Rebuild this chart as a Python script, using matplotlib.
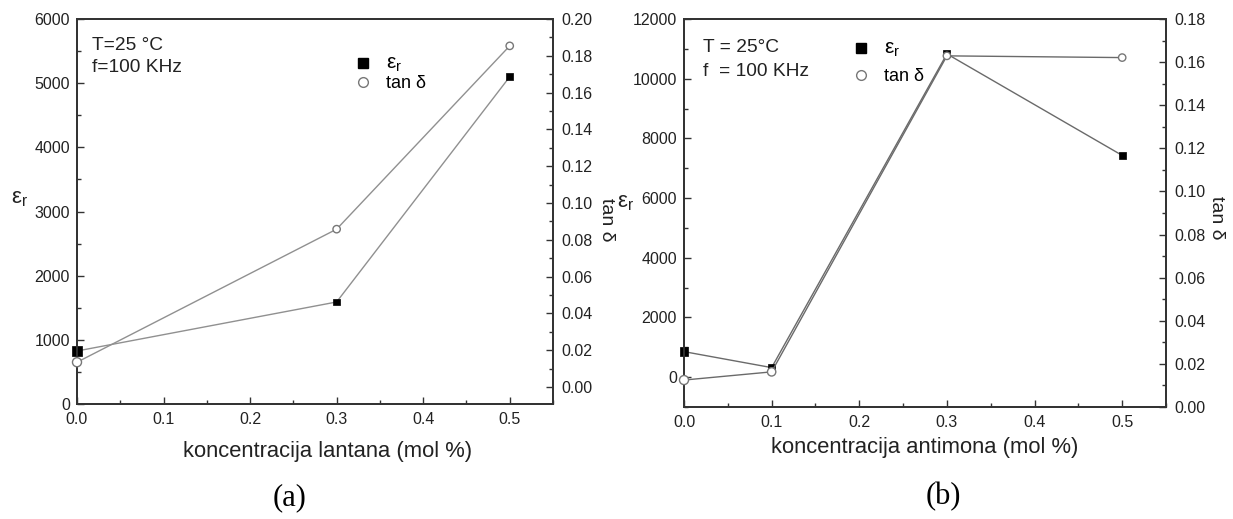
import matplotlib
matplotlib.use('Agg')
import matplotlib.pyplot as plt
from matplotlib.lines import Line2D
from matplotlib.ticker import MultipleLocator, FormatStrFormatter

W, H = 1233, 519
plt.rcParams['font.family'] = ['Liberation Sans', 'DejaVu Sans']
plt.rcParams['mathtext.fontset'] = 'custom'
plt.rcParams['mathtext.rm'] = 'Liberation Sans'
plt.rcParams['mathtext.it'] = 'Liberation Sans:italic'

# ---- data ----
x_a = [0.0, 0.3, 0.5]
eps_a = [826, 1590, 5100]
tan_a = [0.0135, 0.0858, 0.1854]

x_b = [0.0, 0.1, 0.3, 0.5]
eps_b = [855, 320, 10830, 7430]
tan_b = [0.0125, 0.0163, 0.1629, 0.1621]

xticks = [0.0, 0.1, 0.2, 0.3, 0.4, 0.5]
eps_ticks_a = [0, 1000, 2000, 3000, 4000, 5000, 6000]
tan_ticks_a = [0.00, 0.02, 0.04, 0.06, 0.08, 0.10, 0.12, 0.14, 0.16, 0.18, 0.20]
eps_ticks_b = [0, 2000, 4000, 6000, 8000, 10000, 12000]
tan_ticks_b = [0.00, 0.02, 0.04, 0.06, 0.08, 0.10, 0.12, 0.14, 0.16, 0.18]

xlabel_a = 'koncentracija lantana (mol %)'
xlabel_b = 'koncentracija antimona (mol %)'
eps_label = r'ε$_\mathregular{r}$'
tan_label = 'tan δ'
info_a = ['T=25 °C', 'f=100 KHz']
info_b = ['T = 25°C', 'f  = 100 KHz']
panel_a = '(a)'
panel_b = '(b)'

# ---- styles ----
ms_eps_a = [7.2, 4.8, 5.0]
ms_tan_a = [6.5, 5.3, 5.3]
ms_eps_b = [6.0, 5.0, 5.0, 5.0]
ms_tan_b = [6.5, 6.0, 5.3, 5.3]

fig = plt.figure(figsize=(W / 100, H / 100), dpi=100)


def rect(l, t, r, b):
    return [l / W, 1 - b / H, (r - l) / W, (b - t) / H]


def ftext(x, y, s, **kw):
    fig.text(x / W, 1 - y / H, s, **kw)


def style(ax):
    for sp in ax.spines.values():
        sp.set_linewidth(1.3)
        sp.set_color('#333333')
    ax.tick_params(which='both', direction='in', width=1, colors='#333333',
                   labelsize=11.5, labelcolor='#222222')
    ax.tick_params(which='major', length=5)
    ax.tick_params(which='minor', length=3)


def panel(box, x, eps, tan, ms_e, ms_t, lc, eps_lim, eps_ticks, eps_minor,
          tan_lim, tan_ticks, legend_xy, legend_sp):
    ax = fig.add_axes(rect(*box))
    style(ax)
    ax.tick_params(which='both', top=False, right=False, pad=6)
    ax.tick_params(axis='y', which='both', pad=5)
    ax.plot(x, eps, color=lc, lw=1, zorder=2)
    ax.scatter(x, eps, s=[m ** 2 for m in ms_e], marker='s', c='k',
               edgecolors='k', linewidths=0.5, zorder=3, clip_on=False)
    ax.set_xlim(0, 0.55)
    ax.set_xticks(xticks)
    ax.xaxis.set_minor_locator(MultipleLocator(0.05))
    ax.xaxis.set_major_formatter(FormatStrFormatter('%.1f'))
    ax.set_ylim(*eps_lim)
    ax.set_yticks(eps_ticks)
    ax.yaxis.set_minor_locator(MultipleLocator(eps_minor))

    tx = ax.twinx()
    style(tx)
    tx.tick_params(which='both', left=False, top=False, pad=6)
    tx.plot(x, tan, color=lc, lw=1, zorder=2)
    tx.scatter(x, tan, s=[m ** 2 for m in ms_t], marker='o', facecolors='white',
               edgecolors='#777777', linewidths=1, zorder=3, clip_on=False)
    tx.set_ylim(*tan_lim)
    tx.set_yticks(tan_ticks)
    tx.yaxis.set_minor_locator(MultipleLocator(0.01))
    tx.yaxis.set_major_formatter(FormatStrFormatter('%.2f'))

    handles = [Line2D([], [], marker='s', color='k', ls='none', markersize=6.5),
               Line2D([], [], marker='o', mfc='white', mec='#777777', ls='none',
                      markersize=7, mew=1)]
    leg = tx.legend(handles, [eps_label, tan_label], loc='upper left',
                    bbox_to_anchor=(legend_xy[0] / W, 1 - legend_xy[1] / H),
                    bbox_transform=fig.transFigure, frameon=False, fontsize=13,
                    handlelength=1, handletextpad=0.8, borderpad=0, borderaxespad=0,
                    labelspacing=legend_sp)
    leg.get_texts()[0].set_fontsize(15)
    return ax, tx


panel((77, 19, 553, 404), x_a, eps_a, tan_a, ms_eps_a, ms_tan_a, '#909090',
      (0, 6000), eps_ticks_a, 500, (-0.0092, 0.20), tan_ticks_a, (354, 54), 0.05)
panel((684, 19, 1166, 407), x_b, eps_b, tan_b, ms_eps_b, ms_tan_b, '#6a6a6a',
      (-1000, 12000), eps_ticks_b, 1000, (0, 0.18), tan_ticks_b, (852, 39), 0.5)

# texts
ftext(92, 45, info_a[0], ha='left', va='center', fontsize=13.8, color='#222222')
ftext(92, 68, info_a[1], ha='left', va='center', fontsize=13.8, color='#222222')
ftext(703, 48, info_b[0], ha='left', va='center', fontsize=13.8, color='#222222')
ftext(703, 71, info_b[1], ha='left', va='center', fontsize=13.8, color='#222222')

ftext(20, 199, eps_label, ha='center', va='center', fontsize=16, color='#222222')
ftext(626, 203, eps_label, ha='center', va='center', fontsize=16, color='#222222')
ftext(606, 220, tan_label, ha='center', va='center', fontsize=14, rotation=270,
      color='#222222')
ftext(1217, 218, tan_label, ha='center', va='center', fontsize=14, rotation=270,
      color='#222222')

ftext(328, 452, xlabel_a, ha='center', va='center', fontsize=15.8, color='#222222')
ftext(925, 448, xlabel_b, ha='center', va='center', fontsize=15.8, color='#222222')

ftext(290, 498, panel_a, ha='center', va='center', fontsize=22,
      family='Liberation Serif', color='black')
ftext(943, 497, panel_b, ha='center', va='center', fontsize=22,
      family='Liberation Serif', color='black')

fig.savefig('out.png', dpi=100)
